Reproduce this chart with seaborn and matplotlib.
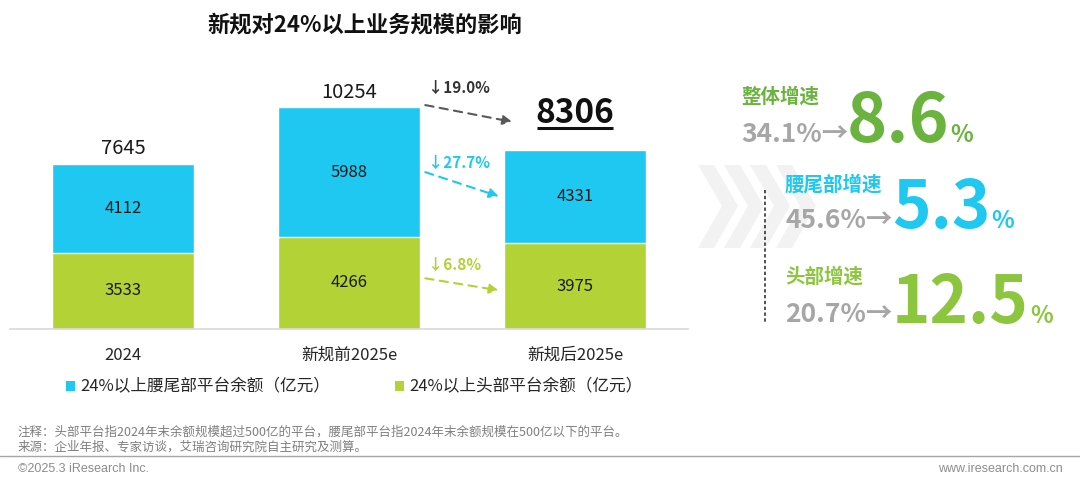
import numpy as np
import pandas as pd
import seaborn as sns
import matplotlib.pyplot as plt
from matplotlib.patches import Patch, Polygon
from matplotlib.lines import Line2D

# data
periods = ["2024", "新规前2025e", "新规后2025e"]
tail_vals = [4112, 5988, 4331]      # 24%以上腰尾部平台余额
head_vals = [3533, 4266, 3975]      # 24%以上头部平台余额
totals = [7645, 10254, 8306]
drops = ["↓19.0%", "↓27.7%", "↓6.8%"]
growth_names = ["整体增速", "腰尾部增速", "头部增速"]
growth_old = ["34.1%→", "45.6%→", "20.7%→"]
growth_new = ["8.6", "5.3", "12.5"]

CYAN = "#1EC8F0"
GREEN = "#B2D235"
GREEN_DK = "#6BB33F"
GREEN_MD = "#8CC63F"
GREY = "#A6A6A6"

sns.set_theme(style="white")
plt.rcParams["font.family"] = ["Noto Sans CJK SC", "DejaVu Sans"]

W, H = 1080, 484
fig = plt.figure(figsize=(W / 100, H / 100), dpi=100)


def fx(x):
    return x / W


def fy(y):
    return 1 - y / H


ax = fig.add_axes([fx(10), fy(329), (688 - 10) / W, (329 - 60) / H])

df = pd.DataFrame({"period": periods, "tail": tail_vals, "head": head_vals})
df["total"] = df["tail"] + df["head"]

sns.barplot(data=df, x="period", y="total", color=CYAN, saturation=1,
            width=0.625, ax=ax)
sns.barplot(data=df, x="period", y="head", color=GREEN, saturation=1,
            width=0.625, ax=ax)

ax.set_xlim(-0.5, 2.5)
ax.set_ylim(0, 12450)
ax.set_xlabel("")
ax.set_ylabel("")
ax.set_yticks([])
for s in ["top", "right", "left"]:
    ax.spines[s].set_visible(False)
ax.spines["bottom"].set_color("#D9D9D9")
ax.spines["bottom"].set_linewidth(1.2)
ax.tick_params(axis="x", length=0, pad=13, labelsize=12, labelcolor="#262626")

# segment labels
for i in range(len(periods)):
    ax.text(i, head_vals[i] / 2, f"{head_vals[i]}", ha="center", va="center",
            fontsize=12, color="#1A1A1A")
    ax.text(i, head_vals[i] + tail_vals[i] / 2, f"{tail_vals[i]}", ha="center",
            va="center", fontsize=12, color="#1A1A1A")

# totals on top
for i in range(2):
    ax.text(i, totals[i] + 200, f"{totals[i]}", ha="center", va="bottom",
            fontsize=14.5, color="#1A1A1A")
ax.text(2, totals[2] + 1230, f"{totals[2]}", ha="center", va="baseline",
        fontsize=24, fontweight="bold", color="#111111")
ax.plot([2 - 0.17, 2 + 0.17], [totals[2] + 1000, totals[2] + 1000], color="#111111",
        lw=2.2, solid_capstyle="butt", clip_on=False)

# dashed change arrows between bar 2 and bar 3
hw = 0.625 / 2
x0, x1 = 1 + hw + 0.025, 2 - hw - 0.025
arrows = [
    (totals[1] + 110, totals[2] + 1280, x1 + 0.06, "#595959", drops[0], totals[1] + 900, "#333333"),
    (head_vals[1] + tail_vals[1] / 2, head_vals[2] + tail_vals[2] / 2, x1, CYAN, drops[1],
     head_vals[1] + tail_vals[1] / 2 + 450, CYAN),
    (head_vals[1] * 0.55, head_vals[2] * 0.45, x1, GREEN, drops[2], head_vals[1] * 0.55 + 600, GREEN),
]
for ys, ye, xe, col, lab, ly, lcol in arrows:
    ax.annotate("", xy=(xe, ye), xytext=(x0, ys),
                arrowprops=dict(arrowstyle="-|>", color=col, lw=1.5,
                                linestyle=(0, (4, 3)), mutation_scale=14,
                                shrinkA=0, shrinkB=0))
    ax.text(x0 + 0.01, ly, lab, ha="left", va="center", fontsize=11,
            fontweight="bold", color=lcol)

# legend
handles = [Patch(facecolor=CYAN, edgecolor="none"), Patch(facecolor=GREEN, edgecolor="none")]
labels = ["24%以上腰尾部平台余额（亿元）", "24%以上头部平台余额（亿元）"]
fig.legend(handles, labels, loc="center left", bbox_to_anchor=(fx(66), fy(387)),
           ncol=2, frameon=False, fontsize=12, handlelength=0.55, handleheight=0.55,
           handletextpad=0.3, columnspacing=3.9, borderpad=0, borderaxespad=0,
           labelcolor="#262626")

# title
fig.text(fx(365), fy(25), "新规对24%以上业务规模的影响", ha="center", va="center",
         fontsize=16, fontweight="bold", color="#111111")

# chevron decoration
for k in range(4):
    xs = 698 + 26 * k
    pts = [(xs, 165), (xs + 16, 165), (xs + 16 + 24, 206), (xs + 16, 248),
           (xs, 248), (xs + 24, 206)]
    fig.patches.append(Polygon([(fx(a), fy(b)) for a, b in pts], closed=True,
                               transform=fig.transFigure, facecolor="#F2F2F2",
                               edgecolor="none", zorder=0))
fig.lines.append(Line2D([fx(765), fx(765)], [fy(190), fy(322)], transform=fig.transFigure,
                        color="#333333", lw=1.2, linestyle=(0, (2, 1.5))))

# growth block
name_cols = [GREEN_DK, CYAN, GREEN_MD]
name_pos = [(741, 97), (785, 185), (785, 277)]
old_pos = [(741, 142), (785, 228), (785, 322)]
new_pos = [(847, 142), (892, 228), (892, 323)]
new_size = [49, 47, 47]
big = []
for i in range(3):
    fig.text(fx(name_pos[i][0]), fy(name_pos[i][1]), growth_names[i], ha="left",
             va="center", fontsize=14, fontweight="bold", color=name_cols[i])
    fig.text(fx(old_pos[i][0]), fy(old_pos[i][1]), growth_old[i], ha="left",
             va="baseline", fontsize=19, fontweight="bold", color=GREY)
    big.append(fig.text(fx(new_pos[i][0]), fy(new_pos[i][1]), growth_new[i], ha="left",
                        va="baseline", fontsize=new_size[i], fontweight="bold",
                        color=name_cols[i]))

fig.canvas.draw()
renderer = fig.canvas.get_renderer()
for i, t in enumerate(big):
    bb = t.get_window_extent(renderer)
    fig.text((bb.x1 + 1) / W, fy(new_pos[i][1]), "%", ha="left", va="baseline",
             fontsize=17, fontweight="bold", color=name_cols[i])

# footer
fig.text(fx(18), fy(432), "注释：头部平台指2024年末余额规模超过500亿的平台，腰尾部平台指2024年末余额规模在500亿以下的平台。",
         ha="left", va="center", fontsize=9, color="#7F7F7F")
fig.text(fx(18), fy(447), "来源：企业年报、专家访谈，艾瑞咨询研究院自主研究及测算。",
         ha="left", va="center", fontsize=9, color="#7F7F7F")
fig.lines.append(Line2D([0, 1], [fy(456), fy(456)], transform=fig.transFigure,
                        color="#A6A6A6", lw=1))
fig.text(fx(18), fy(469), "©2025.3 iResearch Inc.", ha="left", va="center",
         fontsize=9, color="#8C8C8C", family=["Liberation Sans", "DejaVu Sans"])
fig.text(fx(1063), fy(469), "www.iresearch.com.cn", ha="right", va="center",
         fontsize=9, color="#8C8C8C", family=["Liberation Sans", "DejaVu Sans"])

fig.savefig("out.png", dpi=100, facecolor="white")
